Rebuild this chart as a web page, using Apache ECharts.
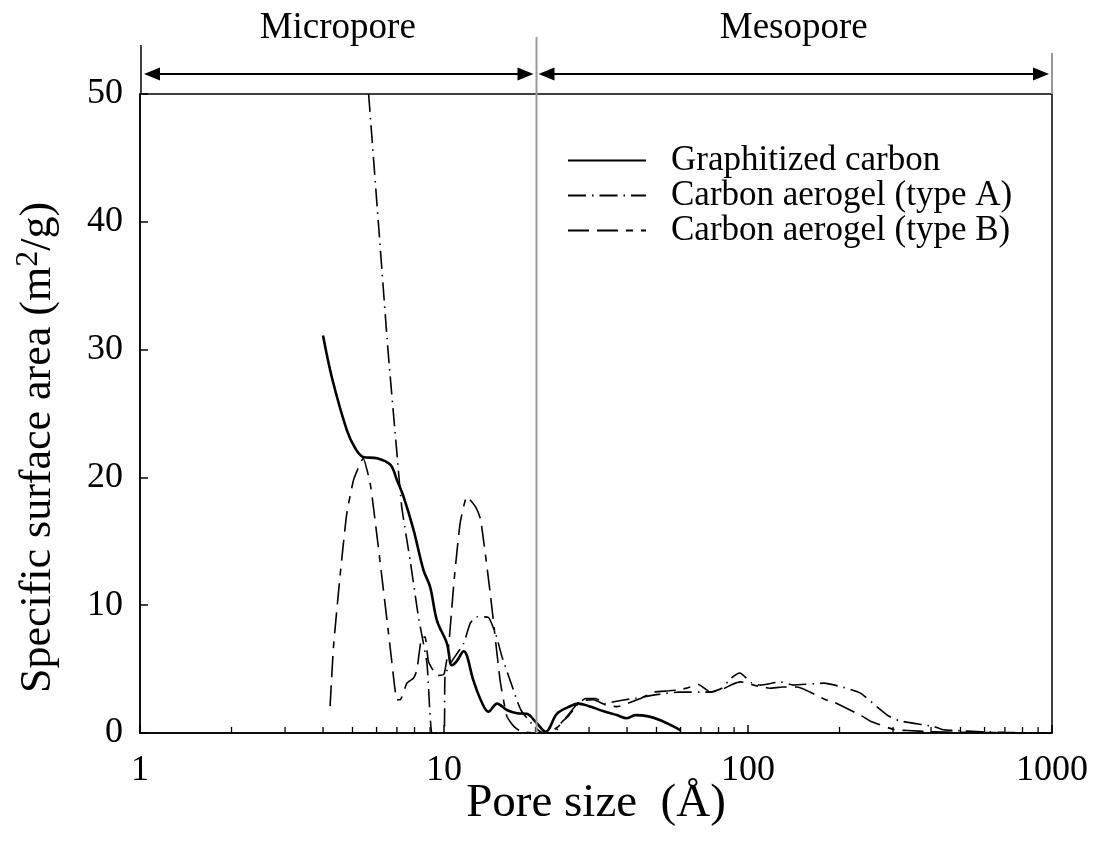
<!DOCTYPE html>
<html>
<head>
<meta charset="utf-8">
<script src="https://cdn.jsdelivr.net/npm/echarts@6/dist/echarts.min.js"></script>
<style>
  html, body { margin: 0; padding: 0; background: #fff; }
  #chart { width: 1096px; height: 855px; }
</style>
</head>
<body>
<div id="chart"></div>
<script>
// Pore size (Å) and specific surface area (m²/g) for each sample
const poreGraphitized = [4.0, 4.28, 4.79, 5.1, 5.42, 6.02, 6.66, 7.0, 7.36, 7.94, 8.56, 9.01, 9.48, 10.23, 10.6, 11.0, 11.6, 12.5, 13.2, 14.0, 14.95, 16.1, 17.4, 18.7, 20.2, 21.6, 23.5, 25.5, 27.7, 30.0, 33.5, 37.0, 40.0, 42.6, 47.0, 51.5, 57.0, 60.0];
const areaGraphitized = [31.1, 27.8, 23.7, 22.3, 21.6, 21.5, 21.0, 19.8, 18.5, 15.9, 12.75, 11.4, 8.8, 7.0, 5.3, 5.6, 6.4, 4.1, 2.6, 1.67, 2.3, 1.8, 1.54, 1.5, 0.76, 0.1, 1.5, 2.0, 2.3, 2.1, 1.7, 1.4, 1.15, 1.4, 1.3, 1.0, 0.5, 0.2];

const poreAerogelA = [5.65, 6.08, 6.54, 7.0, 7.26, 7.75, 8.25, 8.79, 9.12, 9.5, 10.0, 10.08, 10.5, 11.6, 12.2, 12.8, 14.0, 14.9, 15.5, 16.9, 17.4, 18.0, 19.0, 20.0, 21.0, 23.0, 24.5, 25.6, 27.7, 29.2, 31.5, 34.0, 36.2, 42.0, 50.0, 59.0, 75.0, 82.0, 88.0, 94.0, 103.0, 110.0, 128.0, 141.0, 178.0, 204.0, 235.0, 270.0, 289.0, 314.0, 409.0, 441.0, 475.0, 583.0, 700.0, 1000.0];
const areaAerogelA = [50.0, 40.0, 30.0, 21.9, 17.7, 13.4, 9.0, 5.45, 0.0, 0.0, 0.0, 4.5, 5.45, 7.0, 8.6, 9.1, 9.05, 7.5, 6.0, 3.4, 2.5, 1.7, 1.0, 0.4, 0.05, 0.0, 0.9, 1.3, 2.3, 2.7, 2.7, 2.3, 2.45, 2.7, 3.0, 3.2, 3.2, 3.5, 4.3, 4.7, 3.9, 3.75, 4.0, 3.75, 3.9, 3.6, 3.1, 1.9, 1.35, 0.96, 0.5, 0.25, 0.2, 0.1, 0.05, 0.0];

const poreAerogelB = [4.22, 4.33, 4.56, 4.79, 5.04, 5.3, 5.42, 5.72, 6.02, 6.32, 6.57, 6.74, 7.0, 7.18, 7.55, 7.94, 8.14, 8.46, 8.67, 8.89, 9.5, 10.0, 10.35, 10.8, 11.3, 11.9, 12.7, 13.2, 14.2, 15.3, 16.1, 17.0, 18.0, 20.0, 22.0, 24.0, 26.0, 28.0, 31.0, 34.0, 37.0, 44.3, 49.0, 55.0, 60.0, 64.7, 68.8, 75.0, 82.0, 88.6, 94.5, 110.0, 118.0, 130.0, 145.0, 180.0, 192.0, 238.0, 254.0, 306.0, 334.0, 400.0, 500.0, 1000.0];
const areaAerogelB = [2.1, 6.75, 12.5, 17.2, 19.8, 21.1, 21.5, 19.5, 15.4, 11.2, 7.8, 5.5, 2.6, 2.6, 3.9, 4.3, 4.9, 7.5, 7.5, 5.6, 4.5, 4.6, 6.75, 12.0, 16.4, 18.5, 17.7, 16.7, 10.9, 4.1, 1.3, 0.5, 0.1, 0.0, 0.0, 0.6, 1.6, 2.5, 2.6, 2.2, 2.06, 2.7, 3.2, 3.3, 3.4, 3.6, 3.8, 3.2, 3.4, 3.8, 4.0, 3.6, 3.5, 3.6, 3.6, 2.6, 2.4, 1.3, 0.9, 0.23, 0.2, 0.1, 0.05, 0.0];

// Axis ticks and range labels
const xTickValues = [1, 10, 100, 1000];
const xMinorTicks = [2, 3, 4, 5, 6, 7, 8, 9, 20, 30, 40, 50, 60, 70, 80, 90, 200, 300, 400, 500, 600, 700, 800, 900];
const yTickValues = [0, 10, 20, 30, 40, 50];
const seriesNames = ['Graphitized carbon', 'Carbon aerogel (type A)', 'Carbon aerogel (type B)'];
const rangeNames = ['Micropore', 'Mesopore'];
const rangeBounds = [1, 20, 1000];

const FONT = 'Liberation Serif';
const pairs = (xs, ys) => xs.map((x, i) => [x, ys[i]]);

const chart = echarts.init(document.getElementById('chart'));

chart.setOption({
  animation: false,
  backgroundColor: '#fff',
  grid: {
    left: 140, right: 44, top: 94, bottom: 122,
    show: true, borderColor: '#000', borderWidth: 1.5, backgroundColor: 'transparent'
  },
  legend: {
    show: true,
    orient: 'vertical',
    left: 562, top: 138,
    itemWidth: 78, itemHeight: 14, itemGap: 0,
    itemStyle: { color: 'rgba(0,0,0,0)', borderWidth: 0, opacity: 0 },
    textStyle: { fontFamily: FONT, fontSize: 35, lineHeight: 35, color: '#000', padding: [0, 0, 0, 20] },
    data: seriesNames
  },
  xAxis: {
    type: 'log', logBase: 10, min: 1, max: 1000,
    name: 'Pore size  (Å)', nameLocation: 'middle', nameGap: 47, nameMoveOverlap: false,
    nameTextStyle: { fontFamily: FONT, fontSize: 47, color: '#000' },
    axisLine: { lineStyle: { color: '#000', width: 1.5 } },
    axisTick: { inside: true, length: 8, lineStyle: { color: '#000', width: 1.5 } },
    axisLabel: { fontFamily: FONT, fontSize: 36, color: '#000', margin: 20,
      formatter: v => (xTickValues.includes(Math.round(v)) ? String(Math.round(v)) : '') },
    splitLine: { show: false }
  },
  yAxis: {
    type: 'value', min: 0, max: 50, interval: 10,
    name: 'Specific surface area (m{sup|2}/g)', nameLocation: 'middle', nameGap: 77, nameRotate: 90,
    nameTextStyle: { fontFamily: FONT, fontSize: 44, color: '#000', padding: [0, 68, 0, 0],
      rich: { sup: { fontFamily: FONT, fontSize: 32, color: '#000', padding: [0, 0, 18, 0] } } },
    axisLine: { show: true, lineStyle: { color: '#000', width: 1.5 } },
    axisTick: { show: true, inside: true, length: 8, lineStyle: { color: '#000', width: 1.5 } },
    axisLabel: { fontFamily: FONT, fontSize: 36, color: '#000', margin: 17,
      formatter: v => (yTickValues.includes(v) ? String(v) : '') },
    splitLine: { show: false }
  },
  series: [
    {
      name: seriesNames[0], type: 'line', showSymbol: false, symbol: 'none', smooth: 0.35,
      data: pairs(poreGraphitized, areaGraphitized),
      lineStyle: { color: '#000', width: 2.6, type: 'solid' }, z: 4
    },
    {
      name: seriesNames[1], type: 'line', showSymbol: false, symbol: 'none', smooth: 0.15,
      data: pairs(poreAerogelA, areaAerogelA),
      lineStyle: { color: '#000', width: 1.6, type: [18, 6, 1.5, 6] }, z: 3
    },
    {
      name: seriesNames[2], type: 'line', showSymbol: false, symbol: 'none', smooth: 0.15,
      data: pairs(poreAerogelB, areaAerogelB),
      lineStyle: { color: '#000', width: 1.6, type: [21, 8, 21, 8, 7, 8] }, z: 3
    },
    {
      // minor ticks of the log axis at 2..9 of each decade
      type: 'custom', silent: true, z: 5,
      data: xMinorTicks.map(v => [v, 0]),
      renderItem: (params, api) => {
        const p = api.coord([api.value(0), 0]);
        return { type: 'line', shape: { x1: p[0], y1: p[1], x2: p[0], y2: p[1] - 6 },
          style: { stroke: '#000', lineWidth: 1.3 } };
      }
    }
  ]
});

// Micropore / mesopore range bar above the plot
const px = v => chart.convertToPixel({ xAxisIndex: 0 }, v);
const topY = chart.convertToPixel({ yAxisIndex: 0 }, 50);
const bottomY = chart.convertToPixel({ yAxisIndex: 0 }, 0);
const xL = px(rangeBounds[0]), xM = px(rangeBounds[1]), xR = px(rangeBounds[2]);
const arrowY = topY - 20;
const headLen = 16, headHalf = 6.5;

function doubleArrow(a, b) {
  return [
    { type: 'line', shape: { x1: a + headLen - 2, y1: arrowY, x2: b - headLen + 2, y2: arrowY },
      style: { stroke: '#000', lineWidth: 2 } },
    { type: 'polygon', shape: { points: [[a, arrowY], [a + headLen, arrowY - headHalf], [a + headLen, arrowY + headHalf]] },
      style: { fill: '#000' } },
    { type: 'polygon', shape: { points: [[b, arrowY], [b - headLen, arrowY - headHalf], [b - headLen, arrowY + headHalf]] },
      style: { fill: '#000' } }
  ];
}

chart.setOption({
  graphic: [
    { type: 'line', shape: { x1: xL + 1, y1: topY - 49, x2: xL + 1, y2: topY }, style: { stroke: '#000', lineWidth: 1.5 } },
    { type: 'line', shape: { x1: xM + 1, y1: topY - 57, x2: xM + 1, y2: bottomY }, style: { stroke: '#9a9a9a', lineWidth: 2 }, z: 10 },
    { type: 'line', shape: { x1: xR, y1: topY - 41, x2: xR, y2: topY }, style: { stroke: '#9a9a9a', lineWidth: 2 } },
    ...doubleArrow(xL + 4, xM - 2),
    ...doubleArrow(xM + 3, xR - 3),
    { type: 'text', x: (xL + xM) / 2, y: topY - 66,
      style: { text: rangeNames[0], font: '37px "Liberation Serif"', fill: '#000', textAlign: 'center', textVerticalAlign: 'middle' } },
    { type: 'text', x: (xM + xR) / 2, y: topY - 66,
      style: { text: rangeNames[1], font: '37px "Liberation Serif"', fill: '#000', textAlign: 'center', textVerticalAlign: 'middle' } }
  ]
});
</script>
</body>
</html>
